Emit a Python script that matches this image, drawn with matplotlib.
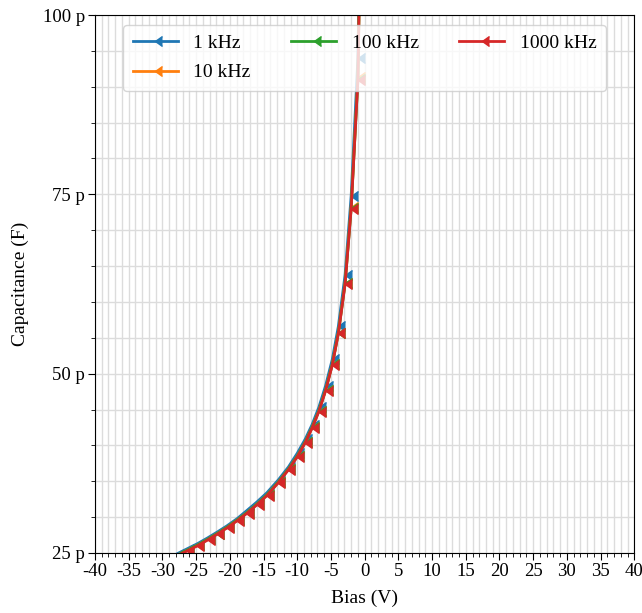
import matplotlib
matplotlib.use("Agg")
import matplotlib.pyplot as plt
from matplotlib.ticker import MultipleLocator, EngFormatter

plt.rcParams['font.family'] = ['Liberation Serif', 'DejaVu Serif']
plt.rcParams['axes.unicode_minus'] = False

# Bias voltages (V)
bias = [-29.2, -27.8, -26.3, -24.8, -23.3, -21.9, -20.4, -18.9, -17.5, -16.0,
        -14.5, -12.8, -11.3, -10.0, -8.8, -7.8, -6.8, -5.8, -4.8, -3.9,
        -2.9, -2.0, -1.0, -0.4]

# Capacitance (pF) for each frequency
cap_1k = [24.1, 24.9, 25.6, 26.3, 27.1, 27.9, 28.8, 29.8, 30.9, 32.1,
          33.4, 35.2, 37.0, 38.9, 40.9, 42.9, 45.3, 48.3, 52.0, 56.6,
          63.8, 74.8, 94.0, 130.0]
cap_10k = [23.9, 24.7, 25.4, 26.1, 26.9, 27.7, 28.6, 29.6, 30.6, 31.8,
           33.1, 34.9, 36.7, 38.5, 40.5, 42.5, 44.8, 47.7, 51.3, 55.7,
           62.7, 73.2, 91.3, 126.0]
cap_100k = [23.9, 24.7, 25.4, 26.1, 26.9, 27.7, 28.6, 29.6, 30.6, 31.8,
            33.1, 34.9, 36.7, 38.5, 40.5, 42.5, 44.8, 47.7, 51.3, 55.7,
            62.6, 73.1, 91.1, 125.5]
cap_1000k = [23.8, 24.6, 25.3, 26.0, 26.8, 27.6, 28.5, 29.5, 30.5, 31.7,
             33.0, 34.8, 36.6, 38.4, 40.4, 42.4, 44.7, 47.6, 51.2, 55.6,
             62.5, 73.0, 91.0, 125.0]

series = [("1 kHz", cap_1k, "#1f77b4"),
          ("10 kHz", cap_10k, "#ff7f0e"),
          ("100 kHz", cap_100k, "#2ca02c"),
          ("1000 kHz", cap_1000k, "#d62728")]

fig = plt.figure(figsize=(6.42, 6.13), dpi=100)
ax = fig.add_axes([0.148, 0.0979, 0.840, 0.8776])

for label, caps, color in series:
    ax.plot(bias, [c * 1e-12 for c in caps], color=color, marker=4,
            markersize=6.5, linewidth=2.0, label=label)

ax.set_xlim(-40, 40)
ax.set_ylim(25e-12, 100e-12)
ax.xaxis.set_major_locator(MultipleLocator(5))
ax.xaxis.set_minor_locator(MultipleLocator(1))
ax.yaxis.set_major_locator(MultipleLocator(25e-12))
ax.yaxis.set_minor_locator(MultipleLocator(5e-12))
ax.yaxis.set_major_formatter(EngFormatter(places=0))
ax.grid(True, which='both', color='#dcdcdc', linewidth=1.0)
ax.set_axisbelow(True)
ax.tick_params(axis='both', which='major', labelsize=13.5, length=5, pad=2)
ax.tick_params(axis='both', which='minor', length=3)

ax.set_xlabel("Bias (V)", fontsize=14, labelpad=7)
ax.set_ylabel("Capacitance (F)", fontsize=14, labelpad=10)

ax.legend(loc='upper center', ncol=3, fontsize=14, handlelength=2.3,
          columnspacing=2.1, labelspacing=0.6, borderpad=0.5)

fig.savefig("out.png", dpi=100)
